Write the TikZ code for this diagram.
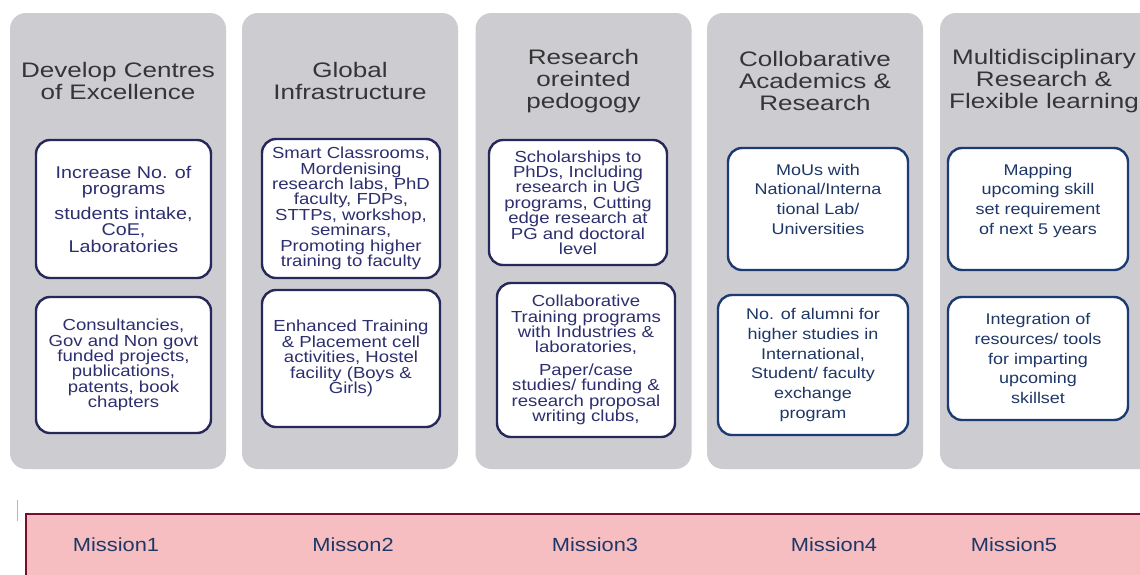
\documentclass[tikz,border=0pt]{standalone}
\usepackage{fontspec}
\setmainfont{Liberation Sans}
\newfontfamily\ttlfont[FakeStretch=1.24]{Liberation Sans}
\newfontfamily\boxfont[FakeStretch=1.16]{Liberation Sans}
\newfontfamily\misfont[FakeStretch=1.15]{Liberation Sans}
\definecolor{colgray}{HTML}{CDCCD1}
\definecolor{ttlgray}{HTML}{353535}
\definecolor{navyA}{HTML}{26285A}
\definecolor{navyB}{HTML}{1C3B73}
\definecolor{navyT}{HTML}{2D2F6E}
\definecolor{navyU}{HTML}{1F3766}
\definecolor{bandfill}{HTML}{F6BEC0}
\definecolor{banddraw}{HTML}{7A0C2E}
\definecolor{tickgray}{HTML}{B8B8B8}
\begin{document}
\begin{tikzpicture}[x=1pt,y=-1pt,
  col/.style={fill=colgray, rounded corners=16pt, minimum width=216pt, minimum height=456pt, inner sep=0pt},
  ttl/.style={text=ttlgray, align=center, inner sep=0pt, font=\ttlfont\fontsize{21}{22}\selectfont},
  ibox/.style={draw=navyA, line width=2.4pt, fill=white, rounded corners=14pt, inner sep=0pt, align=center, text=navyT},
  iboxb/.style={ibox, draw=navyB, text=navyU},
  fa/.style={font=\boxfont\fontsize{17}{16.5}\selectfont},
  fb/.style={font=\boxfont\fontsize{16}{15.4}\selectfont},
  fc/.style={font=\boxfont\fontsize{15.5}{19.8}\selectfont},
  band/.style={fill=bandfill, draw=banddraw, line width=2pt, minimum width=1200pt, minimum height=100pt, inner sep=0pt, anchor=north west},
  mis/.style={text=navyU, inner sep=0pt, font=\misfont\fontsize{19}{20}\selectfont}
]
\useasboundingbox (0,0) rectangle (1140,574);
\clip (0,0) rectangle (1140,574);
\fill[white] (0,0) rectangle (1140,574);

% columns
\node[col] (c1) at (118,241) {};
\node[col] (c2) at (350,241) {};
\node[col] (c3) at (583.5,241) {};
\node[col] (c4) at (815,241) {};
\node[col] (c5) at (1048,241) {};

% titles
\node[ttl] (t1) at (118,81) {Develop Centres\\of Excellence};
\node[ttl] (t2) at (350,81) {Global\\Infrastructure};
\node[ttl] (t3) at (583.5,81.5) {Research\\oreinted\\pedogogy};
\node[ttl] (t4) at (815,81) {Collobarative\\Academics \&\\Research};
\node[ttl] (t5) at (1044,81.5) {Multidisciplinary\\Research \&\\Flexible learning};

% column 1
\node[ibox, fa, minimum width=175pt, minimum height=138pt] (b11) at (123.5,209)
  {Increase No. of\\programs\\[8pt]students intake,\\CoE,\\Laboratories};
\node[ibox, fb, minimum width=175pt, minimum height=136pt] (b12) at (123.5,365)
  {Consultancies,\\Gov and Non govt\\funded projects,\\publications,\\patents, book\\chapters};

% column 2
\node[ibox, fb, minimum width=178pt, minimum height=139pt] (b21) at (351,208.5)
  {Smart Classrooms,\\Mordenising\\research labs, PhD\\faculty, FDPs,\\STTPs, workshop,\\seminars,\\Promoting higher\\training to faculty};
\node[ibox, fb, minimum width=178pt, minimum height=137pt] (b22) at (351,358.5)
  {Enhanced Training\\\& Placement cell\\activities, Hostel\\facility (Boys \&\\Girls)};

% column 3
\node[ibox, fb, minimum width=178pt, minimum height=125pt] (b31) at (578,202.5)
  {Scholarships to\\PhDs, Including\\research in UG\\programs, Cutting\\edge research at\\PG and doctoral\\level};
\node[ibox, fb, minimum width=178pt, minimum height=154pt] (b32) at (586,360)
  {Collaborative\\Training programs\\with Industries \&\\laboratories,\\[7pt]Paper/case\\studies/ funding \&\\research proposal\\writing clubs,};

% column 4
\node[iboxb, fc, minimum width=180pt, minimum height=122pt] (b41) at (818,209)
  {MoUs with\\National/Interna\\tional Lab/\\Universities\\\mbox{}};
\node[iboxb, fc, minimum width=190pt, minimum height=140pt] (b42) at (813,365)
  {No. of alumni for\\higher studies in\\International,\\Student/ faculty\\exchange\\program};

% column 5
\node[iboxb, fc, minimum width=180pt, minimum height=122pt] (b51) at (1038,209)
  {Mapping\\upcoming skill\\set requirement\\of next 5 years\\\mbox{}};
\node[iboxb, fc, minimum width=180pt, minimum height=123pt] (b52) at (1038,358.5)
  {Integration of\\resources/ tools\\for imparting\\upcoming\\skillset};

% small tick
\coordinate (tk1) at (17,500);
\coordinate (tk2) at (17,521);
\draw[tickgray, line width=1pt] (tk1) -- (tk2);

% mission band
\node[band] (band) at (25,513) {};
\node[mis] (m1) at (116,545) {Mission1};
\node[mis] (m2) at (353,545) {Misson2};
\node[mis] (m3) at (595,545) {Mission3};
\node[mis] (m4) at (834,545) {Mission4};
\node[mis] (m5) at (1014,545) {Mission5};
\end{tikzpicture}
\end{document}
